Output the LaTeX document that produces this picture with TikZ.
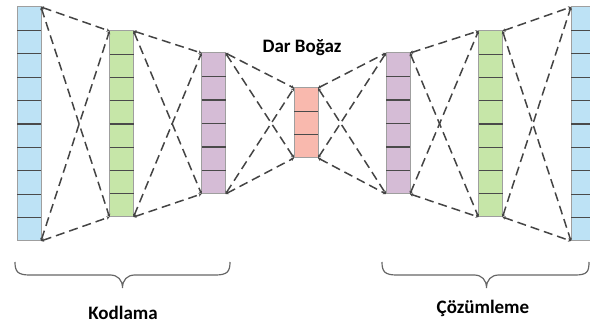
\documentclass[tikz,border=0pt]{standalone}
\usepackage{fontspec}
\setmainfont{Carlito}
\usetikzlibrary{arrows.meta,calc}

\definecolor{cellblue}{HTML}{BDE2F5}
\definecolor{cellgreen}{HTML}{C6E6A8}
\definecolor{cellpurple}{HTML}{D5BCD6}
\definecolor{cellred}{HTML}{F9B9AE}
\definecolor{cellrule}{HTML}{4A4A4A}
\definecolor{wire}{HTML}{444444}

\tikzset{
  layer/.style={draw=gray!75, line width=1pt, fill=#1, minimum width=24pt,
                inner sep=0pt, outer sep=0pt},
  link/.style={draw=wire, line width=1.5pt, dash pattern=on 9pt off 5pt,
               {Stealth[length=3pt,width=3.5pt]}-{Stealth[length=3pt,width=3.5pt]}},
  bracepath/.style={draw=gray!80!black, line width=1.2pt},
  caption/.style={font=\bfseries\fontsize{19}{22}\selectfont, inner sep=0pt}
}

% \layerbox{name}{fill}{x centre}{y top}{y bottom}{cells}
\newcommand{\layerbox}[6]{%
  \pgfmathsetmacro{\lh}{#5-#4}
  \node[layer=#2, minimum height=\lh pt] (#1) at (#3,{(#4+#5)/2}) {};
  \pgfmathtruncatemacro{\lastcut}{#6-1}
  \foreach \k in {1,...,\lastcut}{
    \draw[cellrule, line width=1.3pt]
      ($(#1.north west)!{\k/#6}!(#1.south west)$) --
      ($(#1.north east)!{\k/#6}!(#1.south east)$);
  }%
}

\begin{document}
\begin{tikzpicture}[x=1pt, y=-1pt]
  \useasboundingbox (0,0) rectangle (590,326);
  \begin{scope}
  \clip (0,0) rectangle (590,326);

  % layers of the network
  \layerbox{inL}{cellblue}{29}{7}{241}{10}
  \layerbox{encA}{cellgreen}{121.5}{31}{217}{8}
  \layerbox{encB}{cellpurple}{213.5}{53}{194}{6}
  \layerbox{code}{cellred}{306}{88}{158}{3}
  \layerbox{decB}{cellpurple}{398}{53}{194}{6}
  \layerbox{decA}{cellgreen}{490.5}{31}{217}{8}
  \layerbox{outR}{cellblue}{583}{7}{241}{10}

  % dashed connections between neighbouring layers
  \foreach \a/\b in {inL/encA, encA/encB, encB/code, code/decB, decB/decA, decA/outR}{
    \draw[link] (\a.north east) -- (\b.north west);
    \draw[link] (\a.north east) -- (\b.south west);
    \draw[link] (\a.south east) -- (\b.north west);
    \draw[link] (\a.south east) -- (\b.south west);
  }
  \end{scope}

  % braces below the encoder and decoder
  \draw[bracepath] (15,262) .. controls (15,272) and (18,275) .. (30,275)
    -- (110,275) .. controls (118,275) and (122.5,280) .. (122.5,288)
    .. controls (122.5,280) and (127,275) .. (135,275)
    -- (215,275) .. controls (227,275) and (230,272) .. (230,262);
  \draw[bracepath] (382,262) .. controls (382,272) and (385,275) .. (397,275)
    -- (474,275) .. controls (482,275) and (486.5,280) .. (486.5,288)
    .. controls (486.5,280) and (491,275) .. (499,275)
    -- (575,275) .. controls (587,275) and (589,272) .. (589,262);

  % captions
  \node[caption] (bneck) at (302,48) {Dar Boğaz};
  \node[caption] (enc) at (123,313) {Kodlama};
  \node[caption] (dec) at (483,308) {Çözümleme};
\end{tikzpicture}
\end{document}
